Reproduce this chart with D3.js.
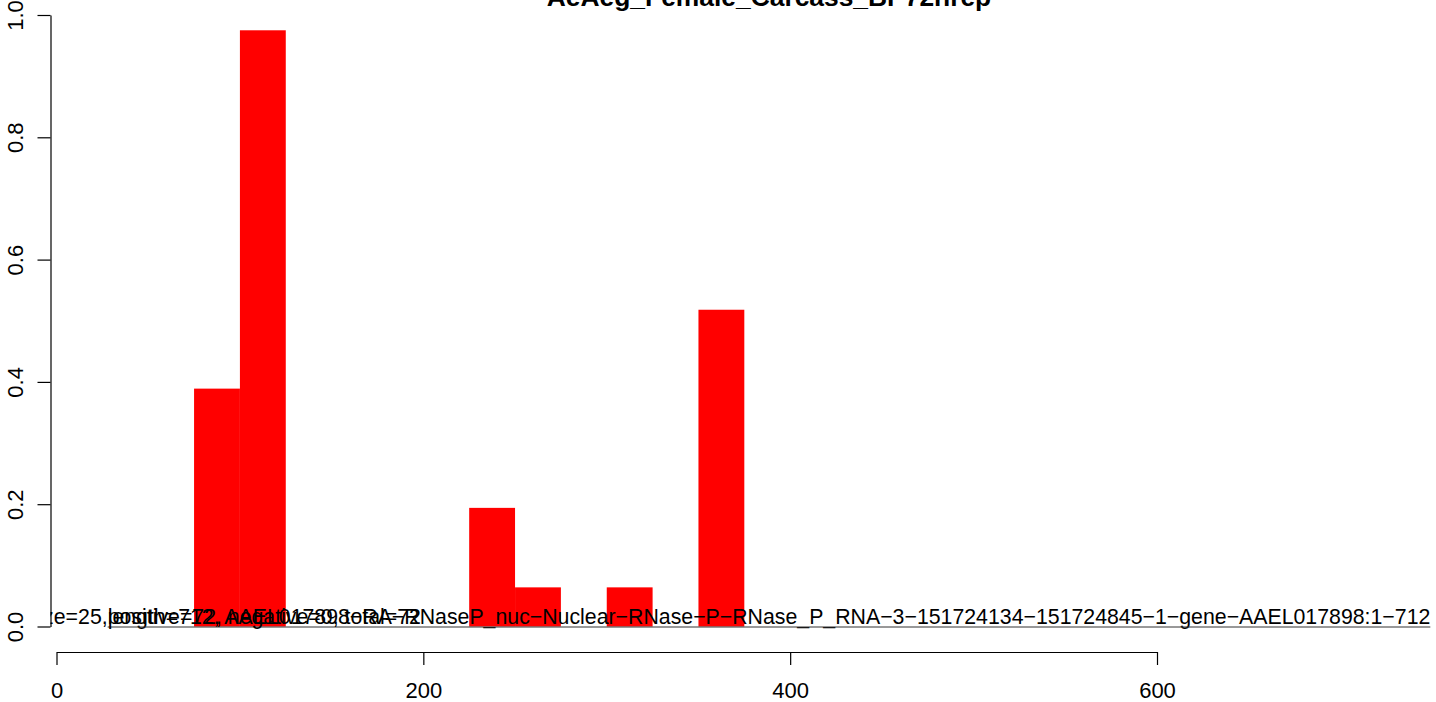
<!DOCTYPE html>
<html>
<head>
<meta charset="utf-8">
<script src="https://cdn.jsdelivr.net/npm/d3@7"></script>
<style>
  html, body { margin: 0; padding: 0; background: #fff; }
  svg { display: block; }
  text { font-family: "Liberation Sans", Arial, Helvetica, sans-serif; }
</style>
</head>
<body>
<svg id="chart" width="1436" height="702"></svg>
<script>
// ---- data ----
const title = "AeAeg_Female_Carcass_BP72hrep";
const binWidth = 25;
const binStarts = [75, 100, 225, 250, 300, 350];
const binValues = [0.389, 0.975, 0.194, 0.064, 0.064, 0.518];
const xTicks = [0, 200, 400, 600];
const yTicks = [0, 0.2, 0.4, 0.6, 0.8, 1.0];
const yTickLabels = ["0.0", "0.2", "0.4", "0.6", "0.8", "1.0"];
const infoPrefix = "bin size=25, ";
const infoStats = "positive=72, negative=0, total=72";
const infoGene = "length=712, AAEL017898\u2212RA\u2212RNaseP_nuc\u2212Nuclear\u2212RNase\u2212P\u2212RNase_P_RNA\u22123\u2212151724134\u2212151724845\u22121\u2212gene\u2212AAEL017898:1\u2212712";

// ---- layout ----
const W = 1436, H = 702;
const plotLeft = 50.5, plotRight = 1487.5, plotTop = -10, plotBottom = 652;
const fs = 22;
const fsInfo = 21.3;

const svg = d3.select("#chart");

const x = d3.scaleLinear().domain([0, 600]).range([56.5, 1157]);
const y = d3.scaleLinear().domain([0, 1]).range([626.5, 15]);

svg.append("defs").append("clipPath").attr("id", "plotclip")
  .append("rect")
  .attr("x", plotLeft).attr("y", plotTop)
  .attr("width", plotRight - plotLeft).attr("height", plotBottom - plotTop);

const plot = svg.append("g").attr("clip-path", "url(#plotclip)");

// bars
plot.selectAll("rect.bar")
  .data(binStarts.map((s, i) => ({ s, v: binValues[i] })))
  .enter().append("rect")
  .attr("class", "bar")
  .attr("x", d => x(d.s))
  .attr("width", d => x(d.s + binWidth) - x(d.s))
  .attr("y", d => y(d.v))
  .attr("height", d => y(0) - y(d.v))
  .attr("fill", "#ff0000");

// info texts
const center = (plotLeft + plotRight) / 2;
const geneText = plot.append("text")
  .attr("x", center)
  .attr("y", y(0) - 2.5)
  .attr("text-anchor", "middle")
  .attr("font-size", fsInfo)
  .attr("fill", "#000")
  .text(infoGene);

const bb = geneText.node().getBBox();
const startX = bb.x;

plot.append("line")
  .attr("x1", startX).attr("x2", bb.x + bb.width)
  .attr("y1", y(0) + 0.5).attr("y2", y(0) + 0.5)
  .attr("stroke", "#333").attr("stroke-width", 1);

plot.append("text")
  .attr("x", startX)
  .attr("y", y(0) - 2.5)
  .attr("text-anchor", "end")
  .attr("font-size", fsInfo)
  .attr("fill", "#000")
  .text(infoPrefix);

plot.append("text")
  .attr("x", startX)
  .attr("y", y(0) - 2.5)
  .attr("text-anchor", "start")
  .attr("font-size", fsInfo)
  .attr("fill", "#000")
  .text(infoStats);

// x axis
const xAxis = d3.axisBottom(x).tickValues(xTicks).tickSize(13).tickSizeOuter(0).tickPadding(17)
  .tickFormat(d3.format("d"));
const gx = svg.append("g").attr("transform", `translate(0,${plotBottom})`).call(xAxis);
gx.selectAll("path, line").attr("stroke", "#000").attr("stroke-width", 1.2);
gx.selectAll("text").attr("font-size", fs).attr("fill", "#000")
  .attr("font-family", "Liberation Sans, Arial, sans-serif");

// y axis
const yAxis = d3.axisLeft(y).tickValues(yTicks).tickSize(13).tickSizeOuter(0)
  .tickFormat((d, i) => yTickLabels[i]);
const gy = svg.append("g").attr("transform", `translate(${plotLeft},0)`).call(yAxis);
gy.selectAll("path, line").attr("stroke", "#000").attr("stroke-width", 1.2);
gy.selectAll("text")
  .attr("font-size", fs).attr("fill", "#000")
  .attr("font-family", "Liberation Sans, Arial, sans-serif")
  .attr("x", 0).attr("dy", null)
  .attr("text-anchor", "middle")
  .attr("transform", "translate(-28,0) rotate(-90)");

// title
svg.append("text")
  .attr("x", center)
  .attr("y", 6)
  .attr("text-anchor", "middle")
  .attr("font-size", fs * 1.2)
  .attr("font-weight", "bold")
  .attr("fill", "#000")
  .text(title);
</script>
</body>
</html>
